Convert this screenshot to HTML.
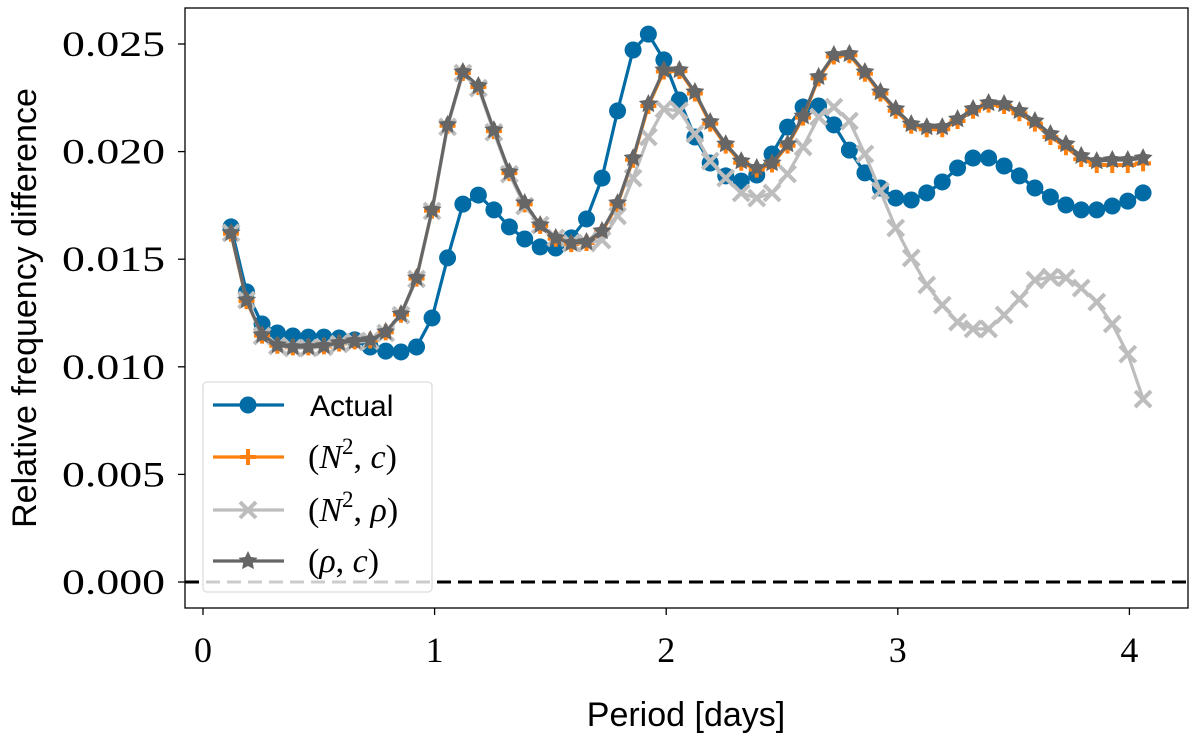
<!DOCTYPE html>
<html><head><meta charset="utf-8"><style>
html,body{margin:0;padding:0;background:#fff;}
svg{display:block;}
</style></head><body>
<svg id="chart" width="1200" height="741" xmlns="http://www.w3.org/2000/svg">
<g id="plot"></g>
</svg>
<script>
const periods=[0.121,0.188,0.255,0.321,0.388,0.455,0.522,0.588,0.655,0.722,0.789,0.855,0.922,0.989,1.056,1.122,1.189,1.256,1.323,1.389,1.456,1.523,1.590,1.656,1.723,1.790,1.857,1.923,1.990,2.057,2.124,2.190,2.257,2.324,2.391,2.457,2.524,2.591,2.658,2.724,2.791,2.858,2.925,2.991,3.058,3.125,3.192,3.258,3.325,3.392,3.459,3.525,3.592,3.659,3.726,3.792,3.859,3.926,3.993,4.059];
const actual=[0.01650,0.01348,0.01199,0.01157,0.01143,0.01138,0.01138,0.01134,0.01125,0.01092,0.01073,0.01069,0.01092,0.01227,0.01506,0.01756,0.01798,0.01729,0.01650,0.01594,0.01557,0.01552,0.01599,0.01687,0.01877,0.02189,0.02472,0.02546,0.02426,0.02240,0.02068,0.01947,0.01887,0.01863,0.01891,0.01989,0.02114,0.02207,0.02212,0.02124,0.02007,0.01901,0.01831,0.01784,0.01775,0.01808,0.01859,0.01924,0.01970,0.01970,0.01933,0.01887,0.01831,0.01789,0.01752,0.01729,0.01729,0.01747,0.01770,0.01808];
const n2c=[0.01618,0.01305,0.01145,0.01098,0.01090,0.01090,0.01095,0.01108,0.01118,0.01122,0.01160,0.01242,0.01410,0.01725,0.02120,0.02365,0.02300,0.02095,0.01900,0.01755,0.01655,0.01595,0.01570,0.01575,0.01625,0.01755,0.01962,0.02212,0.02372,0.02374,0.02270,0.02130,0.02028,0.01948,0.01916,0.01940,0.02028,0.02158,0.02340,0.02442,0.02448,0.02362,0.02270,0.02190,0.02120,0.02104,0.02104,0.02142,0.02190,0.02218,0.02212,0.02178,0.02130,0.02068,0.02020,0.01965,0.01938,0.01938,0.01938,0.01945];
const n2rho=[0.01622,0.01310,0.01143,0.01097,0.01087,0.01087,0.01092,0.01106,0.01115,0.01120,0.01157,0.01240,0.01408,0.01724,0.02115,0.02365,0.02295,0.02090,0.01895,0.01747,0.01659,0.01599,0.01575,0.01575,0.01589,0.01701,0.01877,0.02068,0.02198,0.02189,0.02082,0.01956,0.01877,0.01808,0.01784,0.01808,0.01896,0.02021,0.02161,0.02207,0.02142,0.01989,0.01817,0.01645,0.01506,0.01380,0.01287,0.01208,0.01176,0.01176,0.01241,0.01315,0.01403,0.01417,0.01413,0.01366,0.01301,0.01199,0.01059,0.00850];
const rhoc=[0.01622,0.01310,0.01148,0.01101,0.01092,0.01092,0.01097,0.01111,0.01120,0.01125,0.01162,0.01245,0.01413,0.01729,0.02124,0.02370,0.02305,0.02100,0.01905,0.01761,0.01659,0.01599,0.01575,0.01580,0.01631,0.01761,0.01970,0.02221,0.02379,0.02379,0.02277,0.02138,0.02035,0.01956,0.01924,0.01947,0.02035,0.02165,0.02347,0.02449,0.02454,0.02370,0.02277,0.02198,0.02128,0.02114,0.02114,0.02151,0.02198,0.02226,0.02221,0.02189,0.02142,0.02082,0.02035,0.01980,0.01956,0.01961,0.01961,0.01970];
const xTicks=[0,1,2,3,4];
const yTicks=[0,0.005,0.010,0.015,0.020,0.025];
const yTickLabels=["0.000","0.005","0.010","0.015","0.020","0.025"];

const NS="http://www.w3.org/2000/svg";
const L=185,R=1188,T=8,B=608;
function xs(v){return 203+v*231.6;}
function ys(v){return 582-v*21520;}
const g=document.getElementById('plot');
function mk(tag,attrs,parent){const e=document.createElementNS(NS,tag);for(const k in attrs)e.setAttribute(k,attrs[k]);(parent||g).appendChild(e);return e;}

let frame=mk('rect',{x:L,y:T,width:R-L,height:B-T,fill:'none',stroke:'#000','stroke-width':1.3});



let zl=mk('line',{x1:L,x2:R,y1:ys(0),y2:ys(0),stroke:'#000','stroke-width':3,'stroke-dasharray':'14,7'});



xTicks.forEach(t=>{
  let tk=mk('line',{x1:xs(t),x2:xs(t),y1:B,y2:B+7,stroke:'#000','stroke-width':1.3});
  
  
  let tl=mk('text',{x:xs(t),y:B+54,'text-anchor':'middle','font-family':'Liberation Serif, serif','font-size':36});
  tl.textContent=t;
  
  
});
yTicks.forEach((t,i)=>{
  let tk=mk('line',{x1:L-7,x2:L,y1:ys(t),y2:ys(t),stroke:'#000','stroke-width':1.3});
  
  
  let tl=mk('text',{x:L-20,y:ys(t)+12,'text-anchor':'end','font-family':'Liberation Serif, serif','font-size':36,textLength:103,lengthAdjust:'spacingAndGlyphs'});
  tl.textContent=yTickLabels[i];
  
  
});
let xt=mk('text',{x:686,y:726,'text-anchor':'middle','font-family':'Liberation Sans, sans-serif','font-size':34});
xt.textContent='Period [days]';


let yt=mk('text',{x:0,y:0,'text-anchor':'middle','font-family':'Liberation Sans, sans-serif','font-size':34,transform:'translate(36,308) rotate(-90)'});
yt.textContent='Relative frequency difference';



function marker(type,x,y,color,parent){
  let e;
  if(type==='o'){e=mk('circle',{cx:x,cy:y,r:8.5,fill:color},parent);}
  else if(type==='+'){e=mk('path',{d:`M${x-8},${y}H${x+8}M${x},${y-8}V${y+8}`,stroke:color,'stroke-width':4,fill:'none'},parent);}
  else if(type==='x'){e=mk('path',{d:`M${x-8},${y-8}L${x+8},${y+8}M${x-8},${y+8}L${x+8},${y-8}`,stroke:color,'stroke-width':4,fill:'none'},parent);}
  else {let p=[];for(let k=0;k<10;k++){const r=k%2?5:10;const a=-Math.PI/2+k*Math.PI/5;p.push((x+r*Math.cos(a)).toFixed(1)+','+(y+r*Math.sin(a)).toFixed(1));}
    e=mk('polygon',{points:p.join(' '),fill:color},parent);}
  return e;
}
function series(vals,color,type,name){
  const sg=mk('g',{});
  
  
  const d=vals.map((v,i)=>(i?'L':'M')+xs(periods[i]).toFixed(1)+','+ys(v).toFixed(1)).join('');
  const ln=mk('path',{d:d,fill:'none',stroke:color,'stroke-width':3.2,'stroke-linejoin':'round'},sg);
  
  
  vals.forEach((v,i)=>{
    const m=marker(type,xs(periods[i]),ys(v),color,sg);
    
    
  });
}
series(actual,'#006BA4','o','actual-series');
series(n2c,'#FF800E','+','n2-c-series');
series(n2rho,'#BDBDBD','x','n2-rho-series');
series(rhoc,'#666666','*','rho-c-series');

const lg=mk('g',{});


mk('rect',{x:203,y:382,width:229,height:210,rx:4,fill:'rgba(255,255,255,0.8)',stroke:'#ddd','stroke-width':1.3},lg);
const entries=[['Actual','#006BA4','o',405],['N','#FF800E','+',457],['N','#BDBDBD','x',510],['ρ','#666666','*',561]];
const seconds=['','c','ρ','c'];
entries.forEach((en,i)=>{
  const eg=mk('g',{},lg);
  
  
  mk('line',{x1:213,x2:284,y1:en[3],y2:en[3],stroke:en[1],'stroke-width':3.2},eg);
  marker(en[2],248,en[3],en[1],eg);
  if(i===0){
    let t=mk('text',{x:310,y:en[3]+11,'font-family':'Liberation Sans, sans-serif','font-size':30},eg);
    t.textContent='Actual';
  } else {
    let t=mk('text',{x:308,y:en[3]+11,'font-family':'Liberation Serif, serif','font-size':34},eg);
    t.appendChild(document.createTextNode('('));
    let a=mk('tspan',{'font-style':'italic'},t); a.textContent=en[0];
    if(i<3){let s=mk('tspan',{'font-size':23,dy:-14},t); s.textContent='2';
      let b=mk('tspan',{dy:14},t); b.textContent=', ';}
    else {let b=mk('tspan',{},t); b.textContent=', ';}
    let c=mk('tspan',{'font-style':'italic'},t); c.textContent=seconds[i];
    t.appendChild(document.createTextNode(')'));
  }
});
</script>
</body></html>
